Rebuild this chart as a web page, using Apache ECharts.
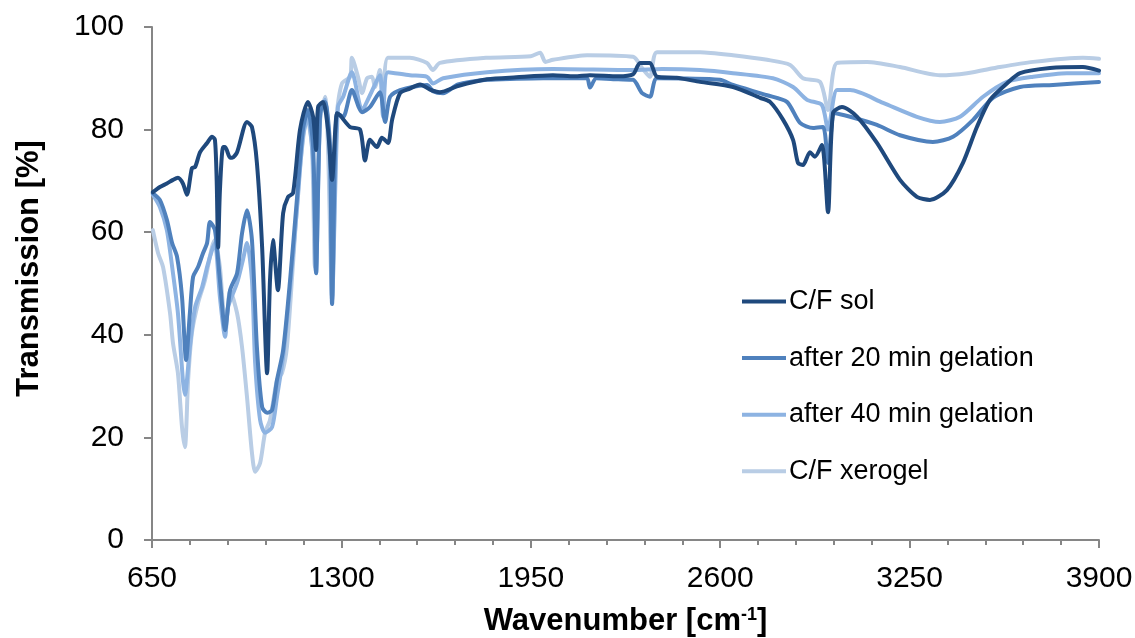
<!DOCTYPE html>
<html>
<head>
<meta charset="utf-8">
<script src="https://cdn.jsdelivr.net/npm/echarts@6/dist/echarts.min.js"></script>
<style>
html,body{margin:0;padding:0;background:#fff;}
#c{width:1135px;height:638px;}
</style>
</head>
<body>
<div id="c"></div>
<script>
const seriesNames = ['C/F sol', 'after 20 min gelation', 'after 40 min gelation', 'C/F xerogel'];
const xTicks = [650, 1300, 1950, 2600, 3250, 3900];
const yTicks = [0, 20, 40, 60, 80, 100];

const solData = [
  [653,67.8],[677,68.8],[701,69.5],[722,70.2],[739,70.6],[756,69.5],[770,67.3],[787,72.5],[798,72.7],[815,75.6],[839,77.4],[856,78.6],[866,78],[872,70],[877,57],[883,68],[894,76.6],[901,76.6],[918,74.5],[925,74.5],[942,75.6],[976,81.5],[993,80.5],[1010,73.5],[1028,57],[1045,32.5],[1055,50.7],[1065,58.5],[1082,48.7],[1100,63.7],[1117,66.9],[1134,67.6],[1158,80],[1185,85.4],[1203,82.5],[1213,76],[1220,84.4],[1237,85.4],[1254,80],[1268,70.2],[1285,83.2],[1295,82.8],[1330,80.5],[1364,80],[1381,74],[1398,78],[1422,76.6],[1439,78.4],[1460,77.4],[1474,81.9],[1501,87.1],[1535,88],[1570,88.8],[1604,87.8],[1638,87.3],[1700,88.5],[1800,89.8],[1900,90.2],[2026,90.6],[2100,90.4],[2153,90.6],[2250,90.4],[2301,90.8],[2325,93],[2359,93],[2383,90.3],[2450,90.1],[2531,89.3],[2644,88.3],[2737,86.2],[2771,85.4],[2816,81.9],[2850,78],[2867,73.5],[2884,73.1],[2908,75.6],[2925,74.7],[2949,77],[2970,63.9],[2987,83.2],[3018,84.4],[3070,82.5],[3138,77.4],[3217,70.2],[3275,66.9],[3320,66.3],[3378,68.2],[3433,73.5],[3481,80.5],[3526,85.8],[3584,89],[3629,91],[3732,92],[3845,92.2],[3900,91.5]
];
const min20Data = [
  [653,67.6],[677,66.3],[701,62.4],[719,57.9],[736,55.2],[753,47.4],[767,35.1],[780,44.2],[791,51.3],[808,53.2],[825,55.9],[839,57.9],[849,62],[866,60.4],[883,50.7],[901,40.9],[918,48.7],[942,52],[959,59.8],[976,64.3],[993,58.5],[1010,37.6],[1028,25.9],[1045,24.8],[1062,25.3],[1079,31.2],[1100,37],[1124,50.7],[1148,66.9],[1168,80],[1185,83.8],[1203,76.6],[1213,52],[1227,83.2],[1244,85.4],[1261,76.6],[1268,46],[1285,83.2],[1306,82.5],[1336,87.7],[1371,83.4],[1398,84.4],[1432,87.3],[1450,81.5],[1467,86.4],[1501,87.7],[1594,88.7],[1614,87.5],[1649,87.1],[1700,88.8],[1800,89.7],[1900,89.9],[1992,90],[2100,90],[2143,90],[2153,88.2],[2175,90],[2250,89.8],[2301,89.7],[2332,87.1],[2359,86.4],[2383,90],[2599,89.7],[2644,88.7],[2761,86.7],[2829,85.4],[2874,81.3],[2919,80.3],[2953,80.5],[2970,73.5],[2994,83.2],[3046,82.5],[3138,80.9],[3217,78.9],[3330,77.6],[3399,78.6],[3468,81.9],[3536,86.2],[3629,88.3],[3742,88.7],[3900,89.3]
];
const min40Data = [
  [653,67.3],[677,64.9],[701,60.4],[722,52],[739,44.2],[756,31.2],[763,28.3],[780,37.6],[798,45.4],[822,49.3],[839,53.2],[856,56.5],[866,57.9],[883,47.4],[901,39.6],[911,45.4],[942,50.1],[962,54.6],[976,57.9],[993,50.7],[1004,34.5],[1021,23.4],[1038,20.9],[1062,22],[1079,27.9],[1100,35.7],[1124,49.3],[1148,64.9],[1168,78.6],[1185,82.5],[1203,73.5],[1213,52],[1227,82.5],[1244,85.8],[1261,73.5],[1268,46.8],[1288,84.4],[1306,86.4],[1336,91.2],[1371,83.8],[1398,86.7],[1432,90.6],[1443,82.5],[1460,91.2],[1535,90.6],[1594,90.3],[1614,89],[1649,90],[1800,91.2],[2026,91.8],[2301,91.6],[2400,91.8],[2531,91.6],[2644,91],[2781,90],[2850,88.3],[2898,85.8],[2949,84.8],[2970,80],[3001,87.7],[3046,87.7],[3159,85.2],[3275,82.5],[3354,81.5],[3423,82.5],[3502,86.4],[3584,89.3],[3674,90.3],[3790,91],[3900,91]
];
const xeroData = [
  [653,60.4],[671,55.9],[688,53.2],[712,44.2],[722,38.4],[739,32.5],[753,22],[763,18.1],[774,31.2],[787,40.4],[808,46.2],[832,50.7],[856,57.1],[866,58.5],[883,53.2],[894,45.4],[904,42.3],[918,48.7],[942,44.2],[959,37.6],[976,27.9],[993,17],[1004,13.3],[1021,15],[1038,20.9],[1055,23.4],[1079,31.2],[1096,32.5],[1113,37.6],[1134,54],[1158,72.7],[1182,82.5],[1199,76.6],[1209,53.2],[1227,81.9],[1244,86.4],[1254,76.6],[1268,47.4],[1285,83.2],[1302,89],[1330,90.3],[1336,94],[1357,90.3],[1371,87.1],[1388,90],[1405,90.3],[1415,88.3],[1432,91.6],[1443,84.4],[1460,94],[1535,94],[1594,93],[1614,91.6],[1638,93],[1800,94],[1950,94.3],[1982,95],[2000,93.2],[2026,93.6],[2143,94.5],[2301,94.2],[2332,92],[2359,90.3],[2383,95.1],[2531,95.1],[2644,94.5],[2761,93.6],[2840,92.6],[2884,90],[2943,89.3],[2970,83.8],[3001,93],[3104,93.2],[3217,92.2],[3354,90.6],[3447,91],[3560,92.2],[3674,93.2],[3845,94],[3900,93.8]
];

const colors = ['#1f497d', '#4f81bd', '#8db3e2', '#b9cde5'];
const fontFam = '"Liberation Sans", Arial, sans-serif';

const chart = echarts.init(document.getElementById('c'), null, {renderer: 'canvas'});
const allData = [solData, min20Data, min40Data, xeroData];
const series = allData.map((d, i) => ({
  name: seriesNames[i],
  type: 'line',
  data: d,
  showSymbol: false,
  smooth: 0.25,
  lineStyle: {width: 4, color: colors[i], cap: 'round', join: 'round'},
  itemStyle: {color: colors[i]},
  z: 10 - i
}));

chart.setOption({
  animation: false,
  backgroundColor: '#fff',
  grid: {left: 152, right: 36, top: 27, bottom: 98, containLabel: false, outerBoundsMode: 'none'},
  legend: {
    orient: 'vertical',
    left: 742,
    top: 288,
    padding: 0,
    itemWidth: 44,
    itemHeight: 4,
    itemGap: 29.6,
    icon: 'rect',
    textStyle: {fontSize: 27, color: '#000', fontFamily: fontFam, padding: [0,0,0,-2]},
    data: seriesNames
  },
  xAxis: {
    type: 'value',
    min: 650,
    max: 3900,
    interval: 650,
    name: 'Wavenumber [cm{sup|-1}]',
    nameLocation: 'middle',
    nameGap: 66,
    nameTextStyle: {
      fontSize: 31, fontWeight: 'bold', color: '#000', fontFamily: fontFam,
      rich: {sup: {fontSize: 18, fontWeight: 'bold', verticalAlign: 'top', color: '#000', fontFamily: fontFam, padding: [0,0,12,0]}}
    },
    axisLine: {show: true, lineStyle: {color: '#868686', width: 2}},
    axisTick: {show: true, inside: false, length: 8, lineStyle: {color: '#868686', width: 2}},
    minorTick: {show: true, splitNumber: 5, length: 5, lineStyle: {color: '#868686', width: 2}},
    axisLabel: {fontSize: 30, color: '#000', fontFamily: fontFam, margin: 24, formatter: v => String(v)},
    splitLine: {show: false}
  },
  yAxis: {
    type: 'value',
    min: 0,
    max: 100,
    interval: 20,
    name: 'Transmission [%]',
    nameLocation: 'middle',
    nameGap: 107,
    nameRotate: 90,
    nameTextStyle: {fontSize: 31, fontWeight: 'bold', color: '#000', fontFamily: fontFam, padding: [0,0,0,30]},
    axisLine: {show: true, lineStyle: {color: '#868686', width: 2}},
    axisTick: {show: true, inside: false, length: 8, lineStyle: {color: '#868686', width: 2}},
    axisLabel: {fontSize: 30, color: '#000', fontFamily: fontFam, margin: 28, formatter: v => String(v)},
    splitLine: {show: false}
  },
  series: series
});
</script>
</body>
</html>
